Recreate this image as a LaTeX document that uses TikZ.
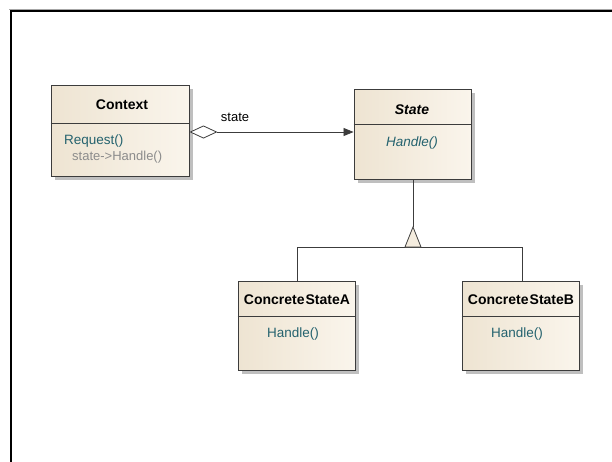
\documentclass[tikz,border=0pt]{standalone}
\usepackage{fontspec}
\setmainfont{Liberation Sans}
\usetikzlibrary{arrows.meta,shadows}

\definecolor{clsfill}{RGB}{244,236,222}
\definecolor{clsfillL}{RGB}{238,228,210}
\definecolor{clsfillR}{RGB}{250,245,236}
\definecolor{clsline}{RGB}{60,60,60}
\definecolor{optext}{RGB}{36,98,110}
\definecolor{notetext}{RGB}{140,140,140}

\tikzset{
  classbox/.style={draw=clsline, line width=0.9pt, left color=clsfillL, right color=clsfillR,
    shading angle=90, inner sep=0pt,
    general shadow={shadow xshift=4pt, shadow yshift=-4pt, fill=black!25}},
  title/.style={font=\fontsize{14}{16}\selectfont\bfseries, inner sep=0pt},
  oper/.style={font=\fontsize{13.5}{16}\selectfont, text=optext, inner sep=0pt},
  note/.style={font=\fontsize{13}{15}\selectfont, text=notetext, inner sep=0pt},
  link/.style={draw=clsline, line width=0.8pt},
}

\begin{document}
\begin{tikzpicture}[x=1pt, y=-1pt]
  \useasboundingbox (0,0) rectangle (612,461);

  % diagram frame, open to the right and bottom
  \draw[black!35, line width=0.8pt] (9,9) -- (620,9);
  \draw[black, line width=1.5pt] (11,470) -- (11,11) -- (620,11);

  % class boxes
  \node[classbox, minimum width=138pt, minimum height=91pt] (ctx) at (120,130.5) {};
  \node[classbox, minimum width=117pt, minimum height=90pt] (st) at (412.5,134) {};
  \node[classbox, minimum width=117pt, minimum height=89pt] (csa) at (296.5,325.5) {};
  \node[classbox, minimum width=117pt, minimum height=89pt] (csb) at (520.5,325.5) {};

  % compartment separators
  \draw[link] (ctx.west |- 0,123) -- (ctx.east |- 0,123);
  \draw[link] (st.west |- 0,124) -- (st.east |- 0,124);
  \draw[link] (csa.west |- 0,316) -- (csa.east |- 0,316);
  \draw[link] (csb.west |- 0,316) -- (csb.east |- 0,316);

  % class texts
  \node[title] (ctxname) at (122,105) {Context};
  \node[oper, anchor=west] (ctxop) at (64,141) {Request()};
  \node[note, anchor=west] (ctxnote) at (72,157) {state->Handle()};

  \node[title, font=\fontsize{14}{16}\selectfont\bfseries\itshape] (stname) at (412,110) {State};
  \node[oper, font=\fontsize{13.5}{16}\selectfont\itshape] (stop) at (412,143) {Handle()};

  \node[title] (csaname) at (297,300) {Concrete\kern1pt StateA};
  \node[oper] (csaop) at (293,334) {Handle()};

  \node[title] (csbname) at (521,300) {Concrete\kern1pt StateB};
  \node[oper] (csbop) at (517,334) {Handle()};

  % aggregation: Context holds a State
  \draw[link, {Diamond[open, length=28pt, width=13pt, fill=white]}-{Triangle[length=10pt, width=8pt]}]
    (ctx.east |- 0,132) -- (st.west |- 0,132);
  \node[font=\fontsize{13}{15}\selectfont, inner sep=0pt] (lbl) at (235,117) {state};

  % generalization tree
  \coordinate (apex) at (413,227);
  \coordinate (junc) at (413,247);
  \coordinate (jl) at (297,247);
  \coordinate (jr) at (522,247);
  \draw[link] (st.south -| apex) -- (apex);
  \draw[link] (jl) -- (jr);
  \draw[link] (jl) -- (jl |- csa.north);
  \draw[link] (jr) -- (jr |- csb.north);
  \filldraw[link, fill=clsfill] (405,247) -- (apex) -- (421,247) -- cycle;
\end{tikzpicture}
\end{document}
